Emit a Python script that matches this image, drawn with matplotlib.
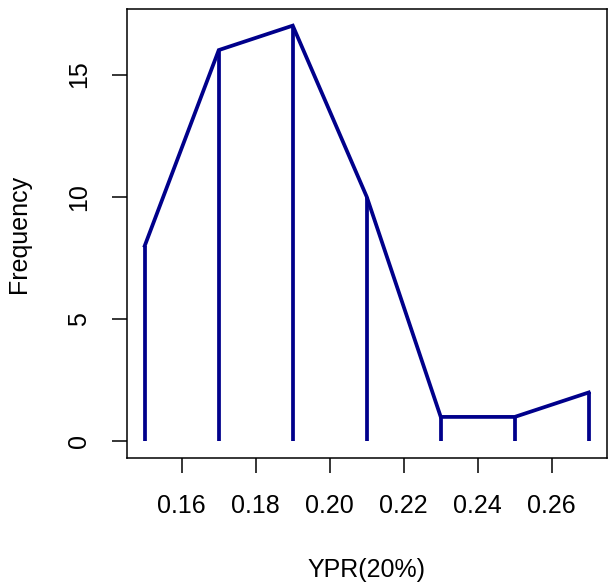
import matplotlib
matplotlib.use("Agg")
import matplotlib.pyplot as plt

x_vals = [0.15, 0.17, 0.19, 0.21, 0.23, 0.25, 0.27]
freq = [8, 16, 17, 10, 1, 1, 2]
x_ticks = [0.16, 0.18, 0.20, 0.22, 0.24, 0.26]
x_tick_labels = ["0.16", "0.18", "0.20", "0.22", "0.24", "0.26"]
y_ticks = [0, 5, 10, 15]

plt.rcParams['font.family'] = ['Liberation Sans', 'DejaVu Sans']
fig = plt.figure(figsize=(6.08, 5.84), dpi=100)
ax = fig.add_axes([127/608, 1-458/584, 479.5/608, 449/584])
color = '#00008B'
ax.vlines(x_vals, 0, freq, color=color, lw=2.7)
ax.plot(x_vals, freq, color=color, lw=2.7, solid_joinstyle='miter')
ax.set_xlim(0.1452, 0.2748)
ax.set_ylim(-0.68, 17.68)
ax.set_xticks(x_ticks)
ax.set_xticklabels(x_tick_labels, fontsize=18)
ax.set_yticks(y_ticks)
ax.set_yticklabels([str(v) for v in y_ticks], fontsize=18, rotation=90, va='center')
ax.tick_params(length=11, width=1.1, pad=15)
for s in ax.spines.values():
    s.set_linewidth(1.1)
ax.set_xlabel("YPR(20%)", fontsize=18, va='center')
ax.set_ylabel("Frequency", fontsize=18, va='center')
ax.xaxis.set_label_coords(0.5, (458-569.5)/449)
ax.yaxis.set_label_coords((19-127)/479.5, 0.5)
fig.savefig("out.png", dpi=100)
